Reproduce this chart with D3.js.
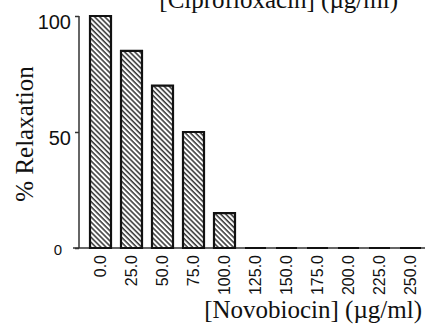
<!DOCTYPE html>
<html>
<head>
<meta charset="utf-8">
<script src="https://cdn.jsdelivr.net/npm/d3@7"></script>
<style>
  html, body { margin: 0; padding: 0; background: #fff; }
  svg { display: block; }
  .serif { font-family: "Liberation Serif", "Times New Roman", Times, "DejaVu Serif", serif; }
  .sans { font-family: "Liberation Sans", Arial, Helvetica, sans-serif; }
</style>
</head>
<body>
<div id="chart"></div>
<script>
const WIDTH = 425;
const HEIGHT = 324;

// data
const novobiocin = ["0.0", "25.0", "50.0", "75.0", "100.0", "125.0", "150.0", "175.0", "200.0", "225.0", "250.0"];
const relaxation = [100, 85, 70, 50, 15, 0, 0, 0, 0, 0, 0];
const yTicks = [0, 50, 100];
const xLabel = "[Novobiocin] (\u00b5g/ml)";
const yLabel = "% Relaxation";
const topLabel = "[Ciprofloxacin] (\u00b5g/ml)";

const svg = d3.select("#chart").append("svg")
    .attr("width", WIDTH)
    .attr("height", HEIGHT);

// hatch fill
svg.append("defs").append("pattern")
    .attr("id", "hatch")
    .attr("patternUnits", "userSpaceOnUse")
    .attr("width", 3.6)
    .attr("height", 3.6)
    .attr("patternTransform", "rotate(-45)")
  .append("line")
    .attr("x1", 1).attr("y1", 0)
    .attr("x2", 1).attr("y2", 3.6)
    .attr("stroke", "#111")
    .attr("stroke-width", 1.3);

let xScale = d3.scaleBand()
    .domain(novobiocin)
    .range([79, 432])
    .paddingInner(0.3226)
    .paddingOuter(0.355);

let yScale = d3.scaleLinear()
    .domain([0, 100])
    .range([248, 16]);

// x axis line (extends a bit left of the y axis)
svg.append("line")
    .attr("x1", 73).attr("x2", WIDTH)
    .attr("y1", yScale(0)).attr("y2", yScale(0))
    .attr("stroke", "#333")
    .attr("stroke-width", 1.5);

// y axis
let yAxis = d3.axisLeft(yScale)
    .tickValues(yTicks)
    .tickSize(4)
    .tickPadding(5)
    .tickFormat(d3.format("d"));

let yG = svg.append("g")
    .attr("transform", "translate(79,0)")
    .call(yAxis);
yG.select(".domain").remove();
yG.append("line")
    .attr("x1", 0).attr("x2", 0)
    .attr("y1", yScale(100)).attr("y2", yScale(0))
    .attr("stroke", "#333")
    .attr("stroke-width", 1.5);
yG.selectAll(".tick line").attr("stroke", "#333").attr("stroke-width", 1.5);
yG.selectAll(".tick text")
    .attr("class", "sans")
    .attr("fill", "#111")
    .style("font-size", d => d === 0 ? "15px" : "20px")
    .attr("dy", d => d === 0 ? "0.45em" : "0.62em")
    .attr("x", d => d === 0 ? -17 : -8);

// bars as paths so zero-height bars still show their outline
svg.append("g").selectAll("path")
    .data(relaxation)
  .enter().append("path")
    .attr("d", (d, i) => {
      let x0 = xScale(novobiocin[i]), x1 = x0 + xScale.bandwidth();
      let y0 = yScale(0), y1 = yScale(d);
      return `M${x0},${y0}L${x0},${y1}L${x1},${y1}L${x1},${y0}Z`;
    })
    .attr("fill", "url(#hatch)")
    .attr("stroke", "#111")
    .attr("stroke-width", 2.2);

// x tick labels, rotated
svg.append("g").selectAll("text")
    .data(novobiocin)
  .enter().append("text")
    .attr("class", "sans")
    .attr("transform", d => `translate(${xScale(d) + xScale.bandwidth() / 2},255) rotate(-90)`)
    .attr("dy", "0.35em")
    .attr("text-anchor", "end")
    .attr("fill", "#111")
    .style("font-size", "16px")
    .text(d => d);

// axis titles
svg.append("text")
    .attr("class", "serif")
    .attr("x", 422).attr("y", 318)
    .attr("text-anchor", "end")
    .attr("fill", "#111")
    .style("font-size", "25px")
    .text(xLabel);

svg.append("text")
    .attr("class", "serif")
    .attr("transform", "translate(33,134) rotate(-90)")
    .attr("text-anchor", "middle")
    .attr("fill", "#111")
    .style("font-size", "25px")
    .text(yLabel);

svg.append("text")
    .attr("class", "serif")
    .attr("x", 398).attr("y", 8)
    .attr("text-anchor", "end")
    .attr("fill", "#111")
    .style("font-size", "25px")
    .text(topLabel);
</script>
</body>
</html>
